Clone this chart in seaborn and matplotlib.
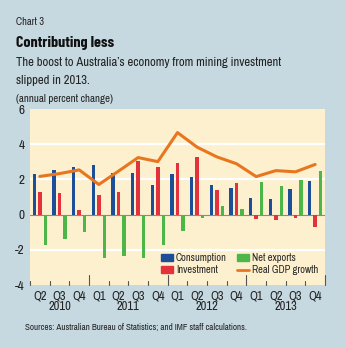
import matplotlib
matplotlib.use("Agg")
import matplotlib.pyplot as plt
from matplotlib.patches import Patch
from matplotlib.lines import Line2D
import numpy as np
import pandas as pd
import seaborn as sns

# Quarterly contributions to growth, 2010 Q2 - 2013 Q4
quarters = ["Q2", "Q3", "Q4", "Q1", "Q2", "Q3", "Q4", "Q1", "Q2", "Q3", "Q4",
            "Q1", "Q2", "Q3", "Q4"]
years = ["2010", "2011", "2012", "2013"]
year_centers = [1, 4.5, 8.5, 12.5]
year_breaks = [2.5, 6.5, 10.5]

consumption = [2.33, 2.52, 2.72, 2.80, 2.37, 2.35, 1.71, 2.29, 2.12, 1.67, 1.50,
               0.93, 0.91, 1.48, 1.92]
investment = [1.28, 1.24, 0.27, 1.13, 1.26, 3.03, 2.70, 2.95, 3.30, 1.42, 1.77,
              -0.25, -0.31, -0.19, -0.72]
net_exports = [-1.71, -1.40, -0.97, -2.49, -2.35, -2.45, -1.75, -0.93, -0.17, 0.49, 0.33,
               1.86, 1.61, 1.98, 2.47]
real_gdp = [2.17, 2.33, 2.54, 1.71, 2.47, 3.24, 3.01, 4.66, 3.83, 3.28, 2.89,
            2.16, 2.50, 2.43, 2.85]

series_names = ["Consumption", "Investment", "Net exports"]
colors = {"Consumption": "#1d4f98", "Investment": "#e3323b", "Net exports": "#4cb748"}
gdp_color = "#e8761f"
bg_color = "#c6d9e1"
plot_bg = "#fdf0cf"
text_color = "#222222"

BODY = ["Archivo Narrow", "DejaVu Sans"]
HEAD = ["Barlow Condensed", "DejaVu Sans"]

sns.set_theme(style="white")
plt.rcParams["font.family"] = BODY

n = len(quarters)
rows = []
for i in range(n):
    for name, vals in zip(series_names, [consumption, investment, net_exports]):
        rows.append({"pos": i, "series": name, "value": vals[i]})
df = pd.DataFrame(rows)

fig = plt.figure(figsize=(3.45, 3.47), dpi=100, facecolor=bg_color)
ax = fig.add_axes([30 / 345, 1 - 285 / 347, 295 / 345, 176 / 347])
ax.set_facecolor(plot_bg)

for yv in [-2, 2, 4]:
    ax.axhline(yv, color="white", lw=1.6, zorder=0.5)
ax.axhline(0, color="#8a8a80", lw=0.8, zorder=0.6)

sns.barplot(data=df, x="pos", y="value", hue="series", hue_order=series_names,
            palette=colors, width=0.84, gap=0.36, saturation=1, ax=ax,
            legend=False, zorder=2, linewidth=0)

sns.lineplot(x=np.arange(n), y=real_gdp, color=gdp_color, lw=2.2, ax=ax, zorder=3)

ax.set_xlim(-0.5, n - 0.5)
ax.set_ylim(-4, 6)
ax.set_yticks([-4, -2, 0, 2, 4, 6])
ax.set_yticklabels(["-4", "-2", "0", "2", "4", "6"])
ax.tick_params(axis="y", length=0, pad=4, labelsize=9.5, labelcolor=text_color)

ax.set_xticks(np.arange(n))
ax.set_xticklabels(quarters)
ax.tick_params(axis="x", length=0, pad=4, labelsize=9, labelcolor=text_color)
ax.set_xlabel("")
ax.set_ylabel("")
for s in ax.spines.values():
    s.set_visible(False)

# boundary tick marks between quarters, taller at year breaks
for b in np.arange(-0.5, n, 1.0):
    tall = b in year_breaks or b == n - 0.5
    ax.plot([b, b], [-4, -4 + (0.55 if tall else 0.25)], color="#555555",
            lw=0.8, zorder=4, clip_on=False)

xform = ax.get_xaxis_transform()
for yr, c in zip(years, year_centers):
    ax.text(c, -21 / 176, yr, ha="center", va="center", fontsize=9,
            color=text_color, transform=xform)

handles = [Patch(color=colors["Consumption"]), Patch(color=colors["Investment"]),
           Patch(color=colors["Net exports"]), Line2D([], [], color=gdp_color, lw=2)]
labels = ["Consumption", "Investment", "Net exports", "Real GDP growth"]
ax.legend(handles, labels, ncol=2, frameon=False, fontsize=7.5,
          loc="lower right", bbox_to_anchor=(1.0, 0.02), handlelength=1.15,
          handleheight=0.65, handletextpad=0.3, columnspacing=1.0,
          labelspacing=0.2, borderaxespad=0.2)

fig.text(16 / 345, 1 - 22 / 347, "Chart 3", fontsize=7.5, va="center", color=text_color)
fig.text(16 / 345, 1 - 43 / 347, "Contributing less", fontsize=11.5, weight="bold",
         family=HEAD, va="center", color="#111111")
fig.text(16 / 345, 1 - 62 / 347, "The boost to Australia\u2019s economy from mining investment",
         fontsize=9.1, va="center", color=text_color)
fig.text(16 / 345, 1 - 80 / 347, "slipped in 2013.", fontsize=9.1, va="center",
         color=text_color)
fig.text(16 / 345, 1 - 99 / 347, "(annual percent change)", fontsize=7.8,
         va="center", color=text_color)
fig.text(25 / 345, 1 - 327 / 347,
         "Sources: Australian Bureau of Statistics; and IMF staff calculations.",
         fontsize=6.5, va="center", color=text_color)

fig.savefig("out.png", dpi=100, facecolor=bg_color)
